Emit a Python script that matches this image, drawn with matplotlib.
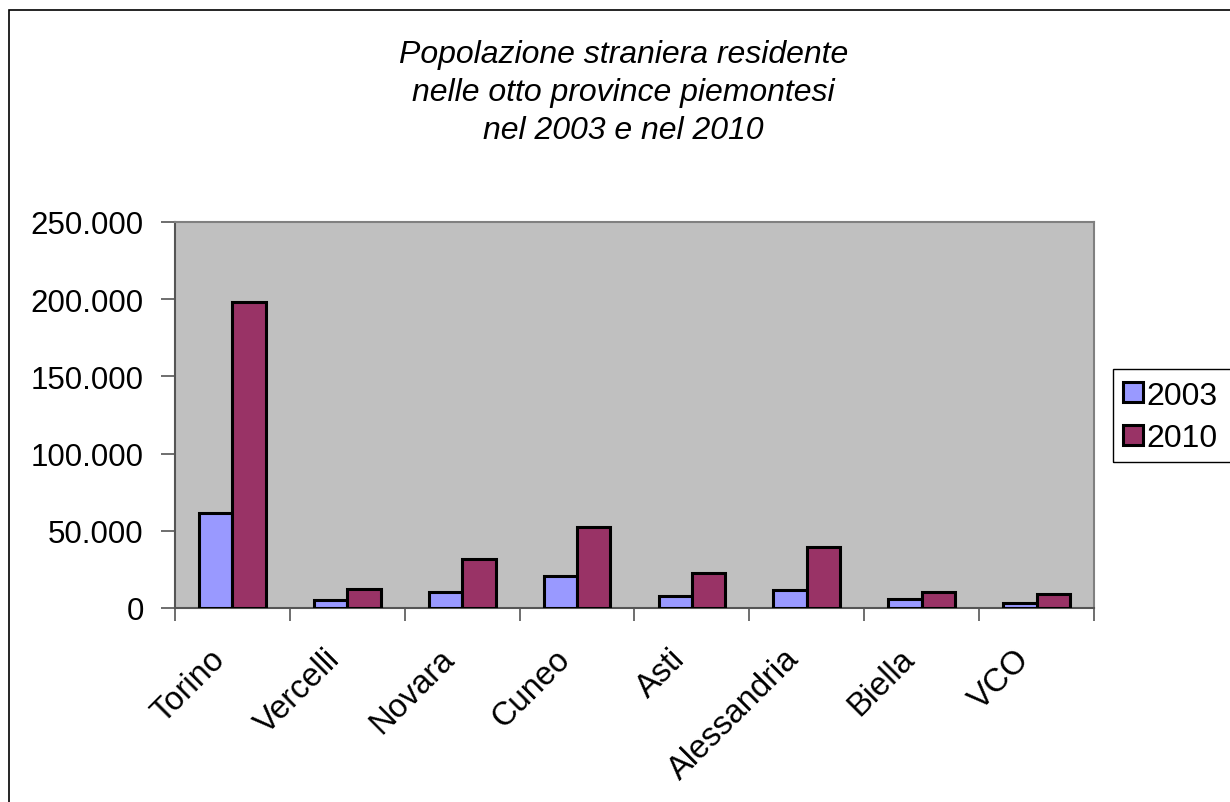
import numpy as np
import matplotlib.pyplot as plt
from matplotlib.patches import Rectangle
from matplotlib.ticker import FuncFormatter, FixedLocator
from matplotlib.transforms import ScaledTranslation

plt.rcParams['font.family'] = ['Liberation Sans', 'DejaVu Sans']

# Data
province = ["Torino", "Vercelli", "Novara", "Cuneo", "Asti", "Alessandria", "Biella", "VCO"]
stranieri_2003 = [61700, 5000, 10100, 20700, 7600, 11900, 5800, 3000]
stranieri_2010 = [198000, 12500, 31700, 52500, 22500, 39500, 10100, 8900]
anni = ["2003", "2010"]
yticks = [0, 50000, 100000, 150000, 200000, 250000]

fig = plt.figure(figsize=(12.3, 8.03), dpi=100)
ax = fig.add_axes([0.1423, 0.2416, 0.7471, 0.4807])

# outer chart border (cut at right and bottom like the original)
fig.patches.append(Rectangle((8.5 / 1230, -0.05), 1.2, 1 - 10.5 / 803 + 0.05,
                             transform=fig.transFigure, fill=False,
                             edgecolor="black", linewidth=1.2))

x = np.arange(len(province))
w = 0.29
ax.bar(x - w / 2, stranieri_2003, w, color="#9999ff", edgecolor="black",
       linewidth=2.2, label=anni[0], zorder=3)
ax.bar(x + w / 2, stranieri_2010, w, color="#993366", edgecolor="black",
       linewidth=2.2, label=anni[1], zorder=3)

ax.set_facecolor("#c0c0c0")
ax.set_xlim(-0.5, len(province) - 0.5)
ax.set_ylim(0, 250000)

for s in ["top", "right"]:
    ax.spines[s].set_color("#808080")
    ax.spines[s].set_linewidth(1.5)
for s in ["left", "bottom"]:
    ax.spines[s].set_color("#555555")
    ax.spines[s].set_linewidth(1.5)

ax.set_yticks(yticks)
ax.yaxis.set_major_formatter(FuncFormatter(lambda v, p: f"{int(v):,}".replace(",", ".")))
ax.tick_params(axis="y", direction="out", length=10, width=1.2, color="#555555",
               labelsize=22.5, pad=12.5)

# ticks between categories, labels at category centres
ax.xaxis.set_major_locator(FixedLocator(np.arange(-0.5, len(province), 1.0)))
ax.set_xticklabels([])
ax.xaxis.set_minor_locator(FixedLocator(x))
ax.set_xticklabels(province, minor=True, rotation=45, ha="right",
                   rotation_mode="anchor", fontsize=23.5)
ax.tick_params(axis="x", which="major", direction="out", length=9, width=1.2,
               color="#555555")
ax.tick_params(axis="x", which="minor", length=0, pad=25)
shift = ScaledTranslation(-23 / 100, 0, fig.dpi_scale_trans)
for lab in ax.get_xticklabels(minor=True):
    lab.set_transform(lab.get_transform() + shift)

fig.text(0.507, 0.884,
         "Popolazione straniera residente\nnelle otto province piemontesi\nnel 2003 e nel 2010",
         ha="center", va="center", fontsize=23, style="italic", linespacing=1.36)

# legend box runs past the right edge of the picture, as in the original
fig.patches.append(Rectangle((1113 / 1230, 1 - 463 / 803), 0.2, 93 / 803,
                             transform=fig.transFigure, fill=False,
                             edgecolor="black", linewidth=1))
leg = fig.legend(loc="center left", bbox_to_anchor=(1113 / 1230, 1 - 418 / 803),
                 fontsize=23, frameon=False,
                 handlelength=0.65, handleheight=0.6, handletextpad=0.1,
                 borderpad=0.3, labelspacing=0.4, borderaxespad=0)

fig.savefig("out.png", dpi=100)
